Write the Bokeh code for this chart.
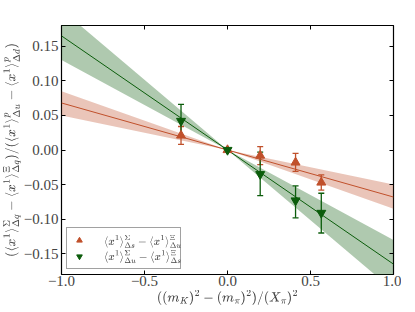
import numpy as np
from bokeh.plotting import figure
from bokeh.models import (ColumnDataSource, Whisker, TeeHead, LinearAxis, Range1d,
                          Label, Legend, LegendItem, FixedTicker, TeX)
from bokeh.embed import file_html
from bokeh.resources import INLINE

# ---- data ----
x_vals = [-0.28, 0.0, 0.197, 0.41, 0.565]

red_y = [0.021, 0.0, -0.008, -0.018, -0.047]
red_lo = [0.008, -0.002, -0.021, -0.031, -0.058]
red_hi = [0.034, 0.002, 0.005, -0.005, -0.036]

green_y = [0.042, 0.0, -0.035, -0.073, -0.091]
green_lo = [0.020, -0.002, -0.066, -0.098, -0.120]
green_hi = [0.066, 0.002, -0.003, -0.052, -0.0625]

# fit slopes (line through origin) and band slopes
red_slope, red_slope_a, red_slope_b = -0.068, -0.050, -0.085
green_slope, green_slope_a, green_slope_b = -0.165, -0.130, -0.203
fit_x = [-1.0, 0.0, 1.0]

x_ticks = [-1.0, -0.5, 0.0, 0.5, 1.0]
y_ticks = [-0.15, -0.10, -0.05, 0.0, 0.05, 0.10, 0.15]

legend_texts = [r"\langle x^1\rangle^{\Sigma}_{\Delta s}-\langle x^1\rangle^{\Xi}_{\Delta u}",
                r"\langle x^1\rangle^{\Sigma}_{\Delta u}-\langle x^1\rangle^{\Xi}_{\Delta s}"]

RED = "#c0502b"
GREEN = "#0b5c0b"

p = figure(frame_width=332, frame_height=249,
           output_backend="svg", toolbar_location=None,
           x_range=Range1d(-1, 1), y_range=Range1d(-0.18, 0.18),
           min_border_left=52, min_border_right=8, min_border_top=25, min_border_bottom=10)
p.grid.visible = False
p.outline_line_color = "black"
p.outline_line_width = 1.2

fx = np.array(fit_x)
for s, a, b, c in [(red_slope, red_slope_a, red_slope_b, RED),
                   (green_slope, green_slope_a, green_slope_b, GREEN)]:
    p.varea(x=fx, y1=a * fx, y2=b * fx, fill_color=c, fill_alpha=0.33)
    p.line(x=fx, y=s * fx, line_color=c, line_width=1)

src_r = ColumnDataSource(dict(x=x_vals, y=red_y, lo=red_lo, hi=red_hi))
src_g = ColumnDataSource(dict(x=x_vals, y=green_y, lo=green_lo, hi=green_hi))

for src, c in [(src_r, RED), (src_g, GREEN)]:
    w = Whisker(source=src, base="x", upper="hi", lower="lo", line_color=c, line_width=1.3,
                upper_head=TeeHead(size=6, line_color=c, line_width=1.3),
                lower_head=TeeHead(size=6, line_color=c, line_width=1.3))
    p.add_layout(w)

r_red = p.scatter("x", "y", source=src_r, marker="triangle", size=9, fill_color=RED, line_color=RED)
r_green = p.scatter("x", "y", source=src_g, marker="inverted_triangle", size=9, fill_color=GREEN, line_color=GREEN)

FONT = "Liberation Serif"
for ax in [p.xaxis[0], p.yaxis[0]]:
    ax.major_label_text_font = FONT
    ax.major_label_text_font_size = "15px"
    ax.major_tick_in = 4
    ax.major_tick_out = 0
    ax.minor_tick_line_color = None
    ax.axis_line_color = None
p.xaxis[0].axis_label_text_font_size = "11px"
p.yaxis[0].axis_label_text_font_size = "11.5px"
p.xaxis[0].major_label_standoff = 1
p.xaxis[0].axis_label_standoff = 1
p.yaxis[0].major_label_standoff = 3
p.yaxis[0].axis_label_standoff = 0
p.xaxis.ticker = FixedTicker(ticks=x_ticks)
p.yaxis.ticker = FixedTicker(ticks=y_ticks)
p.xaxis.major_label_overrides = {t: f"{t:.1f}".replace("-", "\u2212") for t in x_ticks}
p.yaxis.major_label_overrides = {t: f"{t:.2f}".replace("-", "\u2212") for t in y_ticks}
p.xaxis.axis_label = r"$$((m_K)^2-(m_\pi)^2)/(X_\pi)^2$$"
p.yaxis.axis_label = (r"$$(\langle x^1\rangle^{\Sigma}_{\Delta q}-\langle x^1\rangle^{\Xi}_{\Delta q})"
                      r"/(\langle x^1\rangle^{p}_{\Delta u}-\langle x^1\rangle^{p}_{\Delta d})$$")

# tick marks on the right and top edges (no labels)
for loc, ticks in [("right", y_ticks), ("above", x_ticks)]:
    ax = LinearAxis(ticker=FixedTicker(ticks=ticks),
                    major_label_overrides={t: "" for t in ticks},
                    major_tick_in=4, major_tick_out=0, minor_tick_line_color=None,
                    axis_line_color=None, major_label_standoff=0)
    p.add_layout(ax, loc)

legend = Legend(items=[LegendItem(label=" ", renderers=[r_red]),
                       LegendItem(label=" ", renderers=[r_green])],
                location="bottom_left", label_width=84, label_height=14,
                glyph_width=14, glyph_height=14, spacing=2, padding=5, margin=5,
                border_line_color="#444444", border_line_width=1.5,
                background_fill_alpha=0.0)
p.add_layout(legend)

for yy, t in zip([-0.132, -0.154], legend_texts):
    p.add_layout(Label(x=-0.745, y=yy, text=TeX(text=t), text_font_size="8.5px",
                       text_baseline="middle", text_align="left", level="overlay"))

open("out.html", "w").write(file_html(p, INLINE))
